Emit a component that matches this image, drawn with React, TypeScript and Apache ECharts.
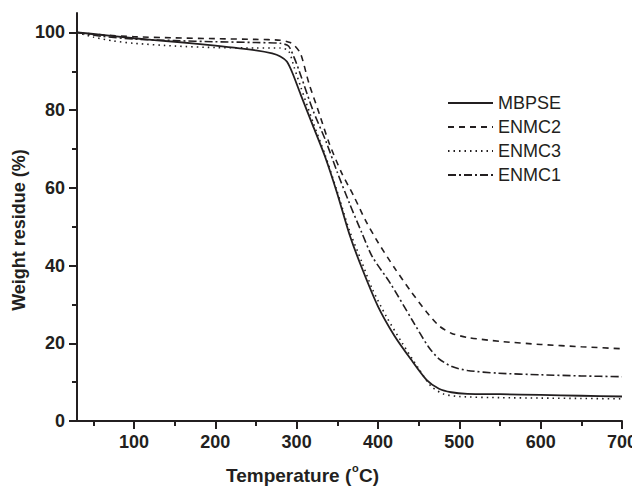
import React, { useEffect, useRef } from "react";
import * as echarts from "echarts";

const seriesNames = ["MBPSE", "ENMC2", "ENMC3", "ENMC1"];

const mbpse: [number, number][] = [
  [30, 100], [50, 99.6], [100, 98.5], [150, 97.6], [200, 96.6], [250, 95.4], [270, 94.6],
  [280, 93.8], [288, 92.5], [295, 89.5], [305, 84], [320, 76], [335, 68], [350, 58.5],
  [365, 48], [380, 39.5], [400, 29.5], [420, 22], [440, 16], [460, 10.5], [475, 8.3],
  [490, 7.4], [510, 7.0], [550, 6.9], [600, 6.7], [650, 6.5], [700, 6.3],
];

const enmc2: [number, number][] = [
  [30, 100], [60, 99.4], [100, 98.9], [150, 98.6], [200, 98.4], [250, 98.2], [280, 98.0],
  [292, 97.4], [298, 96.5], [305, 94.5], [315, 87], [328, 79], [340, 71.5], [355, 64],
  [370, 58], [385, 51.5], [400, 46], [420, 39.5], [440, 33.5], [460, 28], [475, 24.5],
  [490, 22.6], [510, 21.5], [550, 20.5], [600, 19.7], [650, 19.1], [700, 18.6],
];

const enmc3: [number, number][] = [
  [30, 100], [50, 98.8], [75, 97.8], [100, 97.2], [150, 96.5], [200, 96.1], [250, 96.0],
  [280, 96.0], [290, 95.3], [297, 91], [305, 86], [320, 77], [335, 68.5], [350, 59],
  [365, 49], [380, 41], [393, 34], [410, 27], [430, 20], [450, 13.5], [465, 9],
  [480, 7], [500, 6.3], [550, 6.0], [600, 5.9], [650, 5.8], [700, 5.7],
];

const enmc1: [number, number][] = [
  [30, 100], [60, 99], [100, 98.3], [150, 97.9], [200, 97.6], [250, 97.4], [280, 97.2],
  [290, 96.5], [298, 93], [305, 89], [320, 80], [336, 72], [350, 64], [365, 56],
  [380, 48.5], [393, 42.3], [415, 35.5], [442, 26], [462, 19.1], [475, 16], [491, 14],
  [510, 13], [548, 12.3], [600, 11.9], [650, 11.6], [700, 11.4],
];

const xMajor = [100, 200, 300, 400, 500, 600, 700];
const xMinor = [50, 150, 250, 350, 450, 550, 650];
const yMajor = [0, 20, 40, 60, 80, 100];
const yMinor = [10, 30, 50, 70, 90];

const FONT = "Liberation Sans, Arial, sans-serif";
const INK = "#231f20";

export default function App() {
  const ref = useRef<HTMLDivElement>(null);
  useEffect(() => {
    if (!ref.current) return;
    const chart = echarts.init(ref.current, undefined, { renderer: "svg" });
    const axisLine = { show: true, lineStyle: { color: INK, width: 2 } };
    const mkLine = (name: string, data: [number, number][], type: any, width: number) => ({
      name,
      type: "line",
      data,
      symbol: "none",
      smooth: 0.25,
      xAxisIndex: 0,
      yAxisIndex: 0,
      lineStyle: { color: INK, width, type },
      itemStyle: { color: INK, opacity: 0 },
    });
    const nameStyle = { fontFamily: FONT, fontSize: 19, fontWeight: "bold", fill: INK };
    chart.setOption({
      animation: false,
      grid: { left: 77, right: 17, top: 13, bottom: 66, containLabel: false },
      legend: {
        left: 442,
        top: 89,
        orient: "vertical",
        itemWidth: 45,
        itemHeight: 18,
        itemGap: 6,
        data: seriesNames,
        itemStyle: { opacity: 0 },
        textStyle: { fontFamily: FONT, fontSize: 18, color: INK },
      },
      xAxis: [
        {
          type: "value",
          min: 30,
          max: 700,
          axisLine,
          splitLine: { show: false },
          axisTick: { show: true, length: 8, customValues: xMajor, lineStyle: { color: INK, width: 2 } },
          axisLabel: {
            customValues: xMajor,
            margin: 12,
            fontFamily: FONT,
            fontSize: 18,
            fontWeight: "bold",
            color: INK,
          },
        },
        {
          type: "value",
          min: 30,
          max: 700,
          position: "bottom",
          axisLine: { show: false },
          splitLine: { show: false },
          axisTick: { show: true, length: 5, customValues: xMinor, lineStyle: { color: INK, width: 2 } },
          axisLabel: { show: false },
        },
      ],
      yAxis: [
        {
          type: "value",
          min: 0,
          max: 105,
          axisLine,
          splitLine: { show: false },
          axisTick: { show: true, length: 8, customValues: yMajor, lineStyle: { color: INK, width: 2 } },
          axisLabel: {
            customValues: yMajor,
            margin: 12,
            fontFamily: FONT,
            fontSize: 18,
            fontWeight: "bold",
            color: INK,
          },
        },
        {
          type: "value",
          min: 0,
          max: 105,
          position: "left",
          axisLine: { show: false },
          splitLine: { show: false },
          axisTick: { show: true, length: 5, customValues: yMinor, lineStyle: { color: INK, width: 2 } },
          axisLabel: { show: false },
        },
      ],
      graphic: [
        {
          type: "text",
          x: 19,
          y: 230,
          rotation: Math.PI / 2,
          style: {
            text: "Weight residue (%)",
            fontFamily: FONT,
            fontSize: 18,
            fontWeight: "bold",
            fill: INK,
            align: "center",
            verticalAlign: "middle",
          },
        },
        {
          type: "text",
          x: 226,
          y: 475,
          style: { ...nameStyle, text: "Temperature (", align: "left", verticalAlign: "middle" },
        },
        {
          type: "text",
          x: 352,
          y: 468,
          style: { ...nameStyle, fontSize: 11, text: "o", align: "left", verticalAlign: "middle" },
        },
        {
          type: "text",
          x: 359,
          y: 475,
          style: { ...nameStyle, text: "C)", align: "left", verticalAlign: "middle" },
        },
      ],
      series: [
        mkLine("MBPSE", mbpse, "solid", 1.8),
        mkLine("ENMC2", enmc2, [6, 5], 1.6),
        mkLine("ENMC3", enmc3, [1.5, 4], 1.6),
        mkLine("ENMC1", enmc1, [8, 3, 2, 3], 1.6),
      ],
    });
    return () => chart.dispose();
  }, []);
  return <div ref={ref} style={{ width: 640, height: 487, marginTop: -8, marginLeft: -8 }} />;
}
